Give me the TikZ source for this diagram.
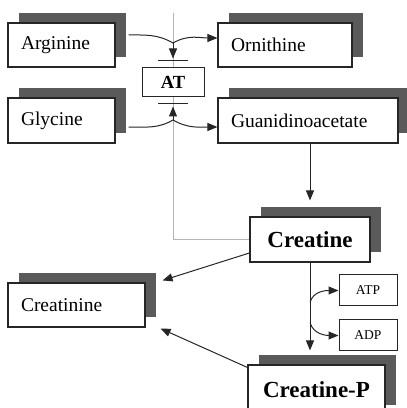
\documentclass[tikz,border=0pt]{standalone}
\usepackage{fontspec}
\setmainfont{Liberation Serif}
\usetikzlibrary{arrows.meta,shadows,backgrounds}

\definecolor{ink}{HTML}{262626}
\definecolor{shade}{HTML}{5A5A5A}
\definecolor{faint}{HTML}{B4B4B4}

\tikzset{
  pbox/.style={draw=ink, line width=1.1pt, fill=white, align=left, inner xsep=13pt, inner ysep=0pt,
    minimum height=44pt, font=\rmfamily\fontsize{19.5}{22}\selectfont,
    general shadow={fill=shade, shadow xshift=10.5pt, shadow yshift=9.5pt}},
  bigbox/.style={pbox, align=center, inner xsep=0pt, font=\rmfamily\fontsize{23}{26}\selectfont\bfseries},
  smallbox/.style={draw=ink, line width=1pt, fill=white, inner sep=0pt, minimum width=58pt,
    minimum height=31pt, font=\rmfamily\fontsize{13.5}{15}\selectfont},
  flow/.style={draw=ink, line width=1pt, -{Triangle[length=10pt,width=8pt]}},
  hbar/.style={draw=ink, line width=1.3pt},
  fback/.style={draw=faint, line width=0.8pt}
}

\begin{document}
\begin{tikzpicture}[x=1pt, y=1pt]

    \useasboundingbox (0,0) rectangle (407,408);

    \node[pbox, text width=81pt] (arginine) at (61.5,363) {Arginine};

    \node[pbox, text width=108pt] (ornithine) at (285,363) {Ornithine};

    \node[pbox, text width=81pt, minimum height=45pt] (glycine) at (61.5,287.5) {Glycine};

    \node[pbox, text width=154pt, minimum height=45pt] (guanid) at (308,287.5) {Guanidinoacetate};

    \node[smallbox, minimum width=62pt, minimum height=29pt, font=\rmfamily\fontsize{18.5}{20}\selectfont\bfseries] (at) at (173,325.5) {AT};

    \node[bigbox, minimum width=120pt, minimum height=45pt] (creatine) at (310,168.5) {Creatine};

    \node[pbox, text width=111pt] (creatinine) at (76.5,103) {Creatinine};

    \node[smallbox] (atp) at (368,117.5) {ATP};

    \node[smallbox] (adp) at (368,72.5) {ADP};

    \node[bigbox, minimum width=137pt, minimum height=50pt] (creatinep) at (316.5,18) {Creatine-P};


    \coordinate (jtop) at (173,365);

    \coordinate (jbot) at (173,288);

    \coordinate (fbtop) at (173,395);

    \coordinate (cptip) at ([yshift=14pt]creatinep.north);

    \coordinate (katp) at (creatine.south |- atp.west);

    \coordinate (kadp) at (creatine.south |- adp.west);


    \begin{pgfonlayer}{background}
      \draw[fback] (creatine.west) -| (fbtop);
    \end{pgfonlayer}


    \draw[flow] ([xshift=13pt,yshift=10pt]arginine.east) to[out=0,in=150] (jtop) to[out=30,in=180] ([yshift=7pt]ornithine.west);

    \draw[flow] ([xshift=13pt,yshift=-6.5pt]glycine.east) to[out=0,in=210] (jbot) to[out=-30,in=180] ([yshift=-6.5pt]guanid.west);

    \draw[flow] (jtop) -- ([yshift=9pt]at.north);

    \draw[flow] (jbot) -- ([yshift=-9pt]at.south);

    \draw[hbar] ([xshift=-15pt,yshift=7pt]at.north) -- ([xshift=15pt,yshift=7pt]at.north);

    \draw[hbar] ([xshift=-15pt,yshift=-6pt]at.south) -- ([xshift=15pt,yshift=-6pt]at.south);


    \draw[flow] (guanid.south -| creatine.north) -- ([yshift=16pt]creatine.north);

    \draw[flow] (creatine.south) -- (creatine.south |- cptip);

    \draw[flow] ([yshift=-12pt]katp) to[out=75,in=180] (atp.west);

    \draw[flow] ([yshift=13pt]kadp) to[out=-75,in=180] (adp.west);


    \draw[flow] ([yshift=-13.5pt]creatine.west) -- ([xshift=17pt,yshift=2pt]creatinine.north east);

    \draw[flow] ([yshift=-3pt]creatinep.north west) -- ([xshift=15pt,yshift=-1pt]creatinine.south east);

\end{tikzpicture}
\end{document}
